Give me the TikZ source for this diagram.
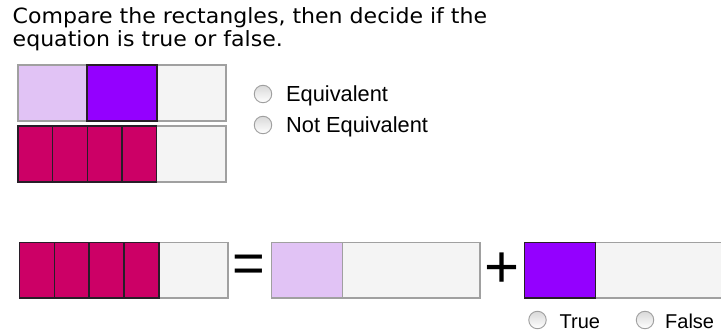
\documentclass[tikz,border=0pt]{standalone}
\usepackage{fontspec}
\setmainfont{Liberation Sans}
\newfontfamily\titlefont[FakeStretch=1.05]{DejaVu Sans}
\definecolor{lilac}{RGB}{225,195,245}
\definecolor{violetc}{RGB}{148,0,255}
\definecolor{magentac}{RGB}{204,0,102}
\definecolor{cellgray}{RGB}{244,244,244}
\definecolor{rimgray}{RGB}{160,160,160}
\definecolor{darkrim}{RGB}{40,30,40}
\tikzset{
  bar/.style={fill=cellgray,draw=rimgray,line width=1.3pt},
  lightcell/.style={fill=lilac,draw=rimgray,line width=1.3pt},
  violetcell/.style={fill=violetc,draw=darkrim,line width=1.1pt},
  magcell/.style={fill=magentac,draw=darkrim,line width=1.1pt},
  radio/.style={circle,minimum size=17.5pt,inner sep=0pt,draw=gray!75,line width=0.9pt,top color=gray!30,bottom color=white},
  title/.style={anchor=base west,inner sep=0pt,font=\titlefont\fontsize{21}{24}\selectfont},
  choice/.style={anchor=base west,inner sep=0pt,font=\fontsize{21.8}{24}\selectfont},
  tfchoice/.style={anchor=base west,inner sep=0pt,font=\fontsize{20}{24}\selectfont},
  opsign/.style={inner sep=0pt,font=\fontsize{56}{60}\selectfont}
}
\begin{document}
\begin{tikzpicture}[x=1pt,y=-1pt]
\useasboundingbox (0,0) rectangle (721,334);
\fill[white] (0,0) rectangle (721,334);
% title
\node[title] (t1) at (12.5,23.3) {Compare the rectangles, then decide if the};
\node[title] (t2) at (12.5,46.8) {equation is true or false.};
% rectangle A
\draw[bar] (18,65) rectangle (226,121);
\draw[lightcell] (18,65) rectangle (87,121);
\draw[violetcell] (87,65) rectangle (157,121);
% rectangle B
\draw[bar] (18,126) rectangle (226,182);
\foreach \a/\b in {18/52.7,52.7/87.3,87.3/122,122/156.7}
  \draw[magcell] (\a,126) rectangle (\b,182);
% radio buttons
\node[radio] (r1) at (263,94) {};
\node[choice] (c1) at (286,101.5) {Equivalent};
\node[radio] (r2) at (263,125) {};
\node[choice] (c2) at (286,132.5) {Not Equivalent};
% equation left
\draw[bar] (19.5,242.5) rectangle (228,298);
\foreach \a/\b in {19.5/54.3,54.3/89,89/124,124/159}
  \draw[magcell] (\a,242.5) rectangle (\b,298);
\node[opsign] (eq) at (248.5,268.5) {=};
% equation middle
\draw[bar] (271.7,242.5) rectangle (480,298);
\draw[lightcell] (271.7,242.5) rectangle (342.7,298);
\node[opsign,font=\fontsize{60}{64}\selectfont] (pl) at (502,270) {+};
% equation right
\draw[bar] (524.3,242.5) rectangle (733,298);
\draw[violetcell] (524.3,242.5) rectangle (595.7,298);
% true / false
\node[radio] (r3) at (537.5,320) {};
\node[tfchoice] (c3) at (559.5,328.3) {True};
\node[radio] (r4) at (645,320) {};
\node[tfchoice] (c4) at (665,328.3) {False};
\end{tikzpicture}
\end{document}
